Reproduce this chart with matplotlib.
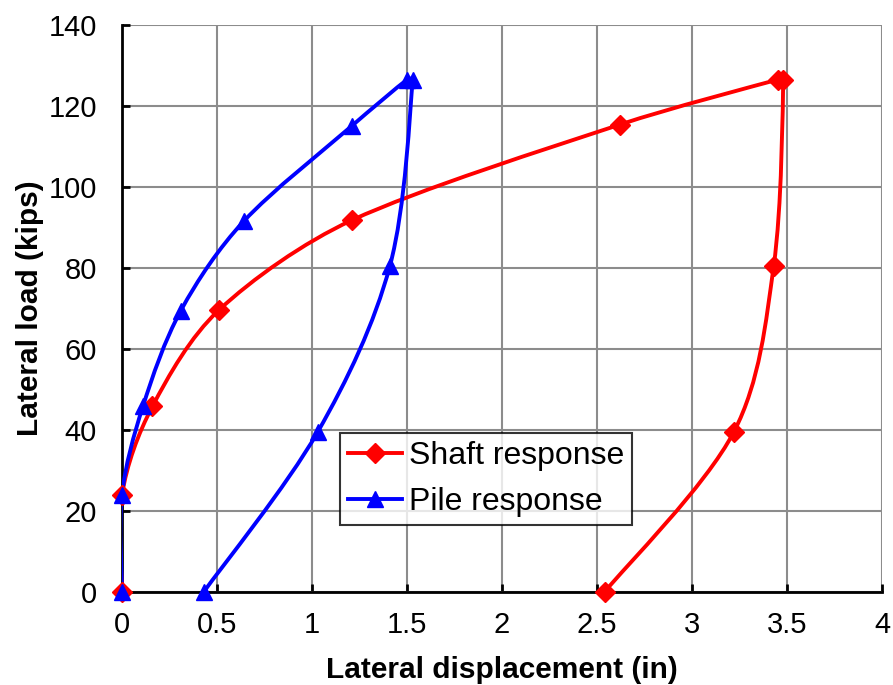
import numpy as np
import matplotlib
matplotlib.use("Agg")
import matplotlib.pyplot as plt
from matplotlib.path import Path
from matplotlib.patches import PathPatch
from matplotlib.lines import Line2D

plt.rcParams['font.family'] = ['Liberation Sans', 'DejaVu Sans']

# values
shaft_x = [0.0, 0.0, 0.16, 0.51, 1.21, 2.62, 3.45, 3.48, 3.43, 3.22, 2.54]
shaft_y = [0.0, 24.0, 45.8, 69.6, 91.8, 115.4, 126.5, 126.5, 80.5, 39.5, 0.0]
pile_x = [0.0, 0.0, 0.11, 0.31, 0.64, 1.21, 1.50, 1.53, 1.41, 1.03, 0.43]
pile_y = [0.0, 24.0, 45.8, 69.5, 91.5, 115.1, 126.5, 126.5, 80.5, 39.5, 0.0]


def smooth_path(ax, xs, ys):
    # excel-style smoothed line: bezier segments through the points,
    # control points worked out in screen space, clamped so close points don't loop
    pts = ax.transData.transform(np.column_stack([xs, ys]))
    n = len(pts)
    verts = [pts[0]]
    codes = [Path.MOVETO]
    for i in range(n - 1):
        p0 = pts[i - 1] if i > 0 else pts[i]
        p1 = pts[i]
        p2 = pts[i + 1]
        p3 = pts[i + 2] if i + 2 < n else pts[i + 1]
        seg = np.hypot(*(p2 - p1))
        t1 = (p2 - p0) / 6.0
        t2 = (p3 - p1) / 6.0
        for t in (t1, t2):
            m = np.hypot(*t)
            if m > seg / 3.0 and m > 0:
                t *= (seg / 3.0) / m
        verts += [p1 + t1, p2 - t2, p2]
        codes += [Path.CURVE4] * 3
    return Path(verts, codes)


fig = plt.figure(figsize=(8.93, 6.85), dpi=100)
ax = fig.add_axes([0.1366, 0.1358, 0.8511, 0.8277])
ax.set_xlim(0, 4)
ax.set_ylim(0, 140)
ax.set_xticks(np.arange(0, 4.01, 0.5))
ax.set_xticklabels(["0", "0.5", "1", "1.5", "2", "2.5", "3", "3.5", "4"])
ax.set_yticks(np.arange(0, 141, 20))
ax.grid(True, color="#8c8c8c", linewidth=1.5)
ax.set_axisbelow(True)
for s in ["top", "right"]:
    ax.spines[s].set_visible(False)
for s in ["left", "bottom"]:
    ax.spines[s].set_linewidth(2)
    ax.spines[s].set_zorder(1)
ax.tick_params(direction="in", length=6, width=2, labelsize=21)
ax.tick_params(axis="x", pad=14)
ax.tick_params(axis="y", pad=18)

series = [(shaft_x, shaft_y, "red", "D", 10, "Shaft response"),
          (pile_x, pile_y, "blue", "^", 11.5, "Pile response")]
handles = []
for xs, ys, col, mk, ms, lab in series:
    p = smooth_path(ax, xs, ys)
    ax.add_patch(PathPatch(p, transform=None, facecolor="none",
                           edgecolor=col, linewidth=2.8, zorder=3))
    ax.plot(xs, ys, linestyle="none", marker=mk, markersize=ms,
            color=col, clip_on=False, zorder=4)
    handles.append(Line2D([], [], color=col, linewidth=2.8, marker=mk,
                          markersize=ms, label=lab))

leg = ax.legend(handles=handles, loc="upper left",
                bbox_to_anchor=(0.287, 0.2804), fontsize=23,
                frameon=True, fancybox=False, edgecolor="black",
                handlelength=1.7, handletextpad=0.2, borderpad=0.25,
                labelspacing=0.5, borderaxespad=0)
leg.get_frame().set_linewidth(1.5)

ax.set_xlabel("Lateral displacement (in)", fontsize=21.5, fontweight="bold", labelpad=12)
ax.set_ylabel("Lateral load (kips)", fontsize=21.5, fontweight="bold", labelpad=3)

fig.savefig("out.png", dpi=100)
